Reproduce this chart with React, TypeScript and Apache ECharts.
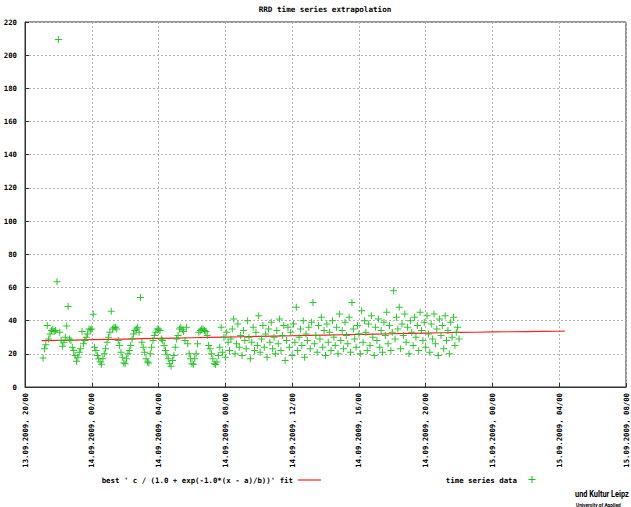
import React, { useEffect, useRef } from "react";
import * as echarts from "echarts";

// x-axis tick labels: every 4 hours starting 13.09.2009 20:00
const xTickLabels = [
  "13.09.2009, 20/00",
  "14.09.2009, 00/00",
  "14.09.2009, 04/00",
  "14.09.2009, 08/00",
  "14.09.2009, 12/00",
  "14.09.2009, 16/00",
  "14.09.2009, 20/00",
  "15.09.2009, 00/00",
  "15.09.2009, 04/00",
  "15.09.2009, 08/00",
];
const xTickHours = 4;

// time series data: first sample at 21:05, one sample every 5 minutes
const startMinutes = 65;
const stepMinutes = 5;
const seriesValues = [
  17.5, 23, 25.5, 37, 29, 32, 34, 35, 33.5, 34, 63.5, 209.5, 33, 28, 24.5, 27, 30, 36.8, 48.5, 29, 28, 24, 22, 19, 15.5,
  18, 21, 23, 33.5, 26, 28, 30, 32, 35, 34.5, 35, 43.8, 24, 22, 19, 17, 15, 13.7,
  17, 20, 23, 27, 30, 33, 45.6, 35, 36, 36, 35, 28, 25, 21, 18, 14.5, 14,
  17, 20, 22, 25, 29, 32, 34, 35, 36, 33, 54, 27, 24, 21, 17, 15,
  14.5, 20, 24, 28, 31, 33, 35, 35, 34, 29, 28, 25, 22, 19.5, 17, 14, 12.5,
  16, 19, 24, 29, 31, 35, 36, 34.5, 33.5, 28, 36, 26, 20, 17, 14, 13.7,
  17, 20, 26, 33, 34, 35, 35, 34, 33.5, 31, 25, 23, 20, 17, 14, 13.5, 15,
  19, 24, 36, 21, 30, 18, 33, 27, 22, 29,
  35, 41, 20, 26, 38, 24, 31, 19, 34, 28,
  23, 40, 30, 17, 27, 36, 22, 33, 25, 43,
  21, 29, 37, 24, 32, 18, 35, 27, 39, 23,
  30, 20, 34, 26, 41, 22, 31, 37, 16, 28,
  36, 24, 33, 19, 38, 27, 48, 22, 30, 35,
  25, 40, 18, 32, 28, 36, 23, 39, 51, 26,
  31, 21, 37, 29, 42, 24, 34, 19, 38, 27,
  33, 22, 40, 30, 25, 36, 20, 44, 28, 34,
  23, 39, 31, 26, 42, 21, 51, 35, 29, 24,
  37, 32, 20, 46, 27, 40, 33, 22, 38, 25,
  43, 30, 19, 36, 28, 41, 24, 34, 21, 39,
  31, 45, 26, 37, 22, 33, 58, 29, 42, 35,
  48, 23, 38, 31, 44, 27, 36, 20, 40, 33,
  25, 42, 30, 37, 22, 45, 34, 28, 39, 24,
  43, 32, 21, 38, 29, 44, 26, 35, 19, 41,
  31, 37, 23, 43, 28, 34, 20, 39, 30, 42,
  25, 33, 36, 29,
];

// fitted logistic curve, hours after 13.09.2009 20:00
const fitHours = [
  1, 2, 3, 4, 5, 6, 7, 8, 9, 10, 11, 12, 13, 14, 15, 16, 17, 18, 19, 20, 21, 22, 23, 24, 25, 26, 27, 28, 29, 30, 31,
  32, 32.33,
];
const fitValues = [
  27.9, 28.1, 28.3, 28.5, 28.7, 28.9, 29.1, 29.3, 29.5, 29.7, 29.9, 30.1, 30.3, 30.5, 30.7, 30.9, 31.1, 31.3, 31.5,
  31.7, 31.9, 32.1, 32.3, 32.5, 32.7, 32.9, 33.0, 33.2, 33.3, 33.4, 33.5, 33.6, 33.7,
];

const titleText = "RRD time series extrapolation";
const fitLegend = "best ' c / (1.0 + exp(-1.0*(x - a)/b))' fit";
const dataLegend = "time series data";
const logoLine1 = "und Kultur Leipz";
const logoLine2 = "University of Applied";

const FONT = "'DejaVu Sans Mono', 'Liberation Mono', monospace";
const GREEN = "#18c018";
const RED = "#ff2020";
const PLUS = "path://M3,0h1v7h-1zM0,3h7v1h-7z";

export default function App() {
  const ref = useRef<HTMLDivElement>(null);

  useEffect(() => {
    document.body.style.margin = "0";
    if (!ref.current) return;
    const chart = echarts.init(ref.current, null, { renderer: "svg" });

    const scatterData = seriesValues.map((v, i) => [(startMinutes + i * stepMinutes) / 60, v]);
    const fitData = fitHours.map((h, i) => [h, fitValues[i]]);

    const labelStyle = {
      fontFamily: FONT,
      fontSize: 7.3,
      fontWeight: "bold" as const,
      color: "#000",
    };

    chart.setOption({
      animation: false,
      backgroundColor: "#fff",
      grid: {
        left: 25,
        top: 22,
        width: 601,
        height: 365,
        show: true,
        borderColor: "#333",
        borderWidth: 1,
        backgroundColor: "transparent",
      },
      xAxis: {
        type: "value",
        min: 0,
        max: (xTickLabels.length - 1) * xTickHours,
        interval: xTickHours,
        axisLine: { show: true, lineStyle: { color: "#333" } },
        axisTick: { show: true, inside: true, length: 4, lineStyle: { color: "#333" } },
        splitLine: { show: true, lineStyle: { color: "#b4b4b4", type: [2, 2], width: 1 } },
        axisLabel: {
          ...labelStyle,
          rotate: 90,
          margin: 6,
          showMinLabel: true,
          showMaxLabel: true,
          formatter: (v: number) => xTickLabels[Math.round(v / xTickHours)] ?? "",
        },
      },
      yAxis: {
        type: "value",
        min: 0,
        max: 220,
        interval: 20,
        axisLine: { show: true, lineStyle: { color: "#333" } },
        axisTick: { show: true, inside: true, length: 4, lineStyle: { color: "#333" } },
        splitLine: { show: true, lineStyle: { color: "#b4b4b4", type: [2, 2], width: 1 } },
        axisLabel: { ...labelStyle, margin: 8 },
      },
      series: [
        {
          name: fitLegend,
          type: "line",
          data: fitData,
          showSymbol: false,
          symbol: "none",
          lineStyle: { color: RED, width: 1.2 },
          z: 3,
        },
        {
          name: dataLegend,
          type: "scatter",
          data: scatterData,
          symbol: PLUS,
          symbolSize: 7,
          itemStyle: { color: GREEN, opacity: 0.9 },
          z: 4,
        },
      ],
      graphic: [
        {
          type: "text",
          x: 325,
          y: 9,
          style: {
            text: titleText,
            fontFamily: FONT,
            fontSize: 7.6,
            fontWeight: "bold",
            fill: "#000",
            align: "center",
            verticalAlign: "middle",
          },
        },
        {
          type: "text",
          x: 293,
          y: 480,
          style: {
            text: fitLegend,
            fontFamily: FONT,
            fontSize: 7.4,
            fontWeight: "bold",
            fill: "#000",
            align: "right",
            verticalAlign: "middle",
          },
        },
        {
          type: "line",
          shape: { x1: 298, y1: 480, x2: 321, y2: 480 },
          style: { stroke: RED, lineWidth: 1.2 },
        },
        {
          type: "text",
          x: 517,
          y: 480,
          style: {
            text: dataLegend,
            fontFamily: FONT,
            fontSize: 7.4,
            fontWeight: "bold",
            fill: "#000",
            align: "right",
            verticalAlign: "middle",
          },
        },
        {
          type: "line",
          shape: { x1: 528.5, y1: 479.5, x2: 535.5, y2: 479.5 },
          style: { stroke: GREEN, lineWidth: 1 },
        },
        {
          type: "line",
          shape: { x1: 532, y1: 476, x2: 532, y2: 483 },
          style: { stroke: GREEN, lineWidth: 1 },
        },
        {
          type: "text",
          x: 575,
          y: 494,
          scaleX: 0.82,
          style: {
            text: logoLine1,
            fontFamily: "'Liberation Sans Narrow', 'Roboto', 'DejaVu Sans Condensed', sans-serif",
            fontSize: 9,
            fontWeight: "bold",
            fill: "#000",
            align: "left",
            verticalAlign: "middle",
          },
        },
        {
          type: "text",
          x: 576,
          y: 505,
          style: {
            text: logoLine2,
            fontFamily: "'Roboto', 'DejaVu Sans Condensed', sans-serif",
            fontSize: 4.8,
            fontWeight: "bold",
            fill: "#000",
            align: "left",
            verticalAlign: "middle",
          },
        },
      ],
    });

    return () => chart.dispose();
  }, []);

  return <div ref={ref} style={{ width: 631, height: 507 }} />;
}
